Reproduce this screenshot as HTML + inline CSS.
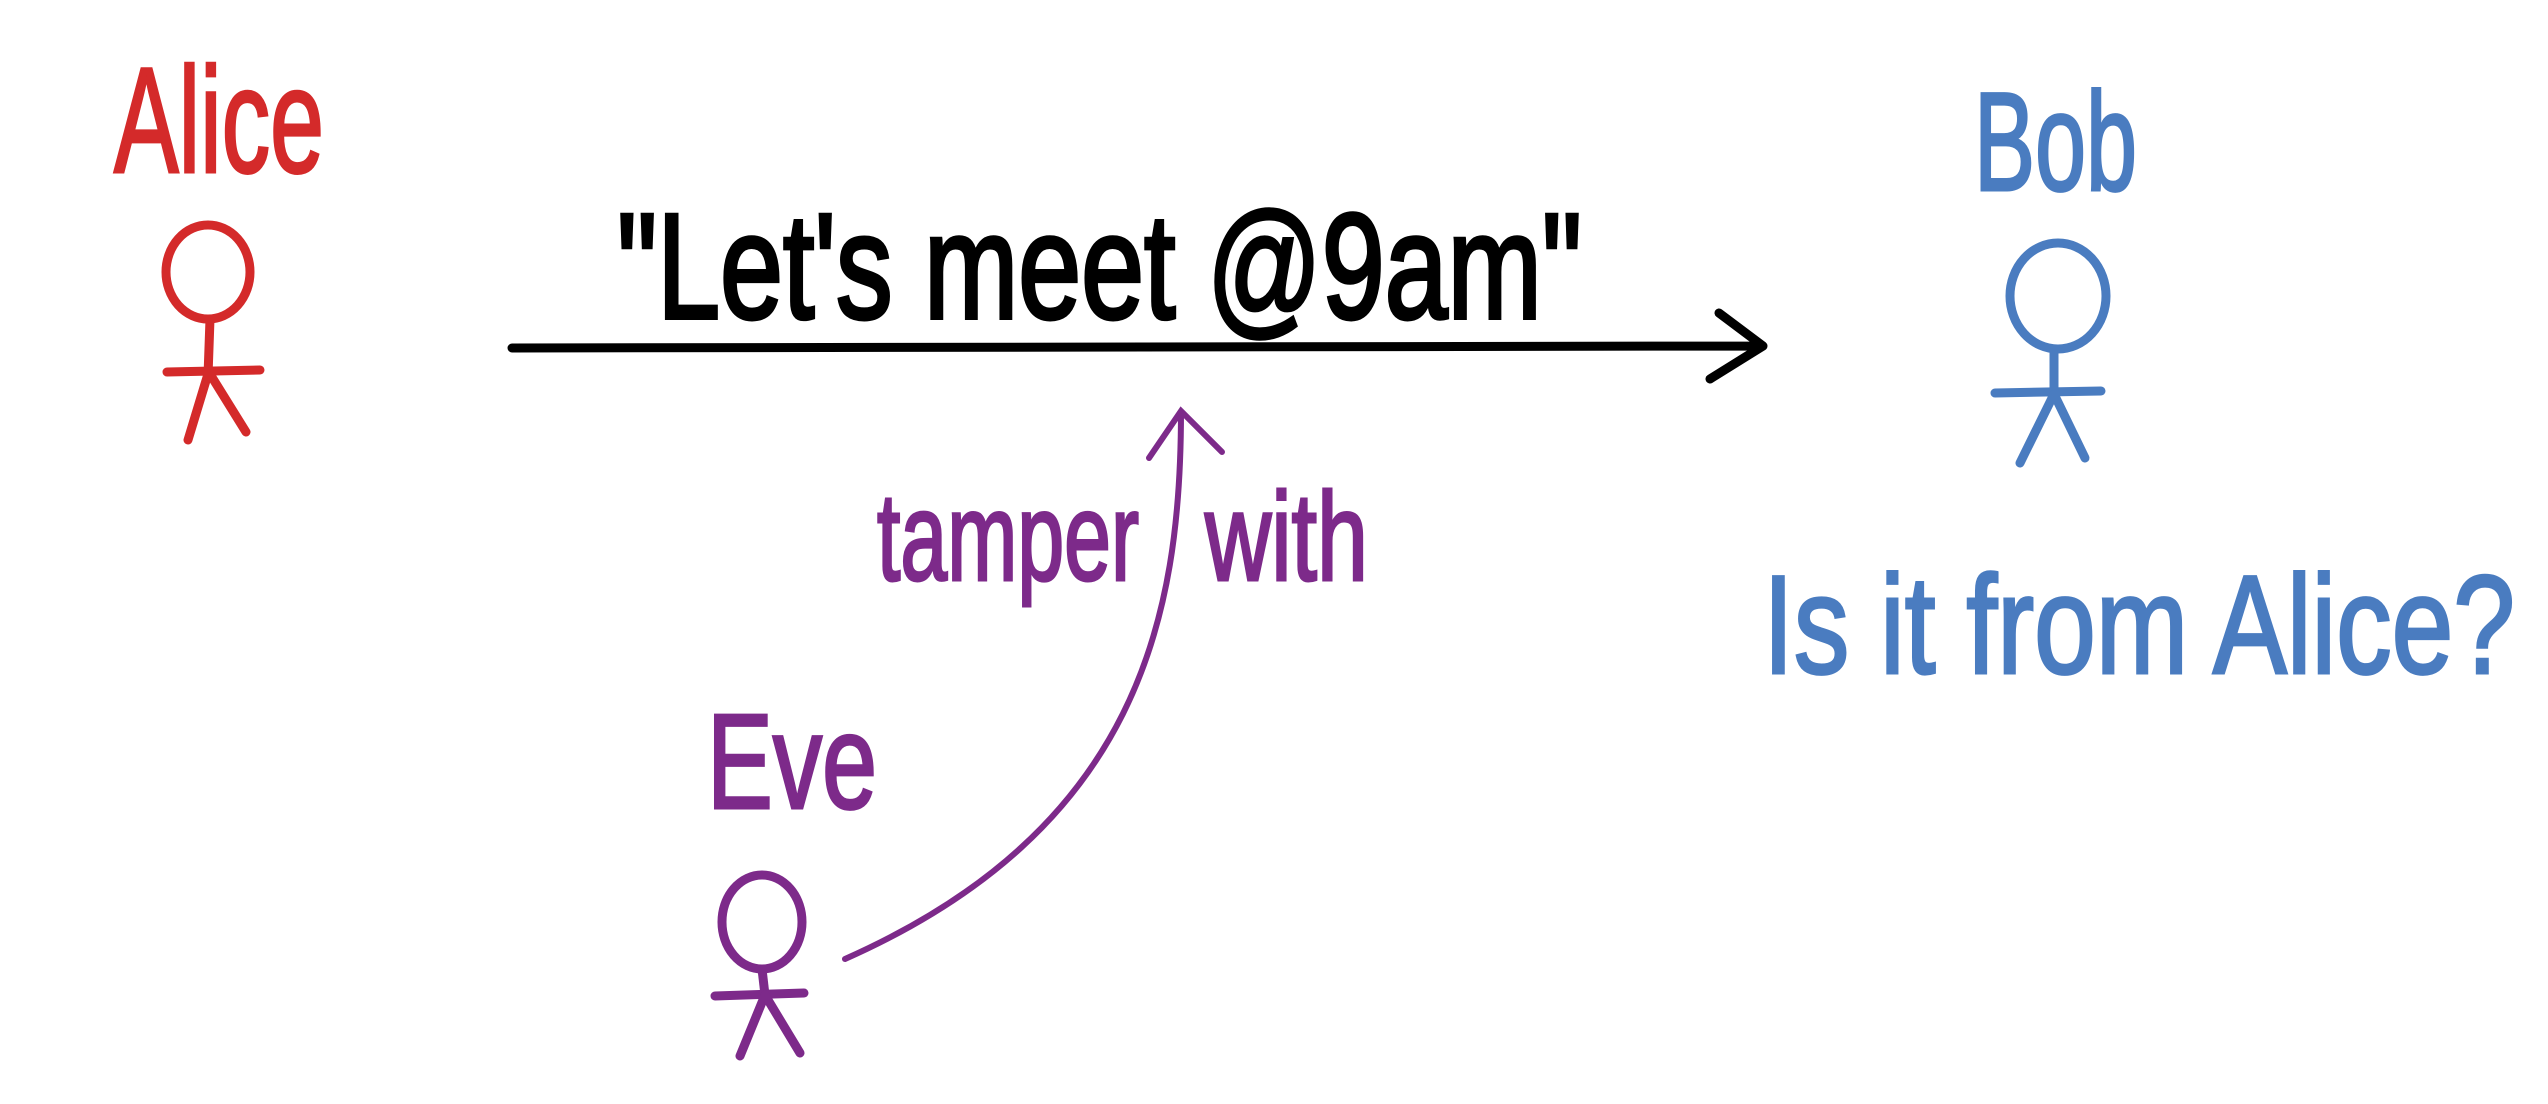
<!DOCTYPE html>
<html><head><meta charset="utf-8"><style>
html,body{margin:0;padding:0;background:#fff;}
svg{display:block;}
text{font-family:"Liberation Sans",sans-serif;}
</style></head><body>
<svg width="2548" height="1104" viewBox="0 0 2548 1104" xmlns="http://www.w3.org/2000/svg">
<rect width="2548" height="1104" fill="#fff"/>
<!-- Alice -->
<g stroke="#d42a2a" fill="none" stroke-width="9" stroke-linecap="round">
  <text x="114" y="172" fill="#d42a2a" stroke="#d42a2a" stroke-width="3" font-size="150" textLength="210" lengthAdjust="spacingAndGlyphs">Alice</text>
  <ellipse cx="208" cy="272" rx="42" ry="47"/>
  <line x1="210" y1="319" x2="208" y2="376"/>
  <line x1="167" y1="372" x2="260" y2="370"/>
  <line x1="208" y1="374" x2="188" y2="440"/>
  <line x1="210" y1="374" x2="246" y2="432"/>
</g>
<!-- Message -->
<g>
  <text x="617" y="318" fill="#000" stroke="#000" stroke-width="4" font-size="150" textLength="965" lengthAdjust="spacingAndGlyphs">"Let's meet @9am"</text>
  <path d="M512 348 L1763 346 M1719 313 L1763 346 L1710 379" stroke="#000" stroke-width="9" fill="none" stroke-linecap="round" stroke-linejoin="round"/>
</g>
<!-- Bob -->
<g stroke="#4a7cc0" fill="none" stroke-width="9" stroke-linecap="round">
  <text x="1974" y="190" fill="#4a7cc0" stroke="#4a7cc0" stroke-width="3" font-size="140" textLength="163" lengthAdjust="spacingAndGlyphs">Bob</text>
  <ellipse cx="2058" cy="296" rx="48" ry="53"/>
  <line x1="2054" y1="349" x2="2054" y2="394"/>
  <line x1="1995" y1="393" x2="2101" y2="391"/>
  <line x1="2054" y1="394" x2="2020" y2="463"/>
  <line x1="2054" y1="394" x2="2085" y2="458"/>
  <text x="1763" y="673" fill="#4a7cc0" stroke="#4a7cc0" stroke-width="3" font-size="140" textLength="752" lengthAdjust="spacingAndGlyphs">Is it from Alice?</text>
</g>
<!-- Eve -->
<g stroke="#7d2a8a" fill="none" stroke-width="9" stroke-linecap="round">
  <text x="707" y="808" fill="#7d2a8a" stroke="#7d2a8a" stroke-width="3" font-size="135" textLength="170" lengthAdjust="spacingAndGlyphs">Eve</text>
  <ellipse cx="762" cy="922" rx="40" ry="47"/>
  <line x1="762" y1="969" x2="765" y2="995"/>
  <line x1="715" y1="996" x2="804" y2="993"/>
  <line x1="765" y1="995" x2="740" y2="1056"/>
  <line x1="765" y1="995" x2="800" y2="1053"/>
  <path d="M845 959 C1138 829 1181 618 1181 411 M1149 458 L1181 411 L1222 452" stroke-width="6"/>
  <text x="877" y="580" fill="#7d2a8a" stroke="#7d2a8a" stroke-width="3" font-size="125" textLength="262" lengthAdjust="spacingAndGlyphs">tamper</text>
  <text x="1205" y="580" fill="#7d2a8a" stroke="#7d2a8a" stroke-width="3" font-size="125" textLength="163" lengthAdjust="spacingAndGlyphs">with</text>
</g>
</svg>
</body></html>
